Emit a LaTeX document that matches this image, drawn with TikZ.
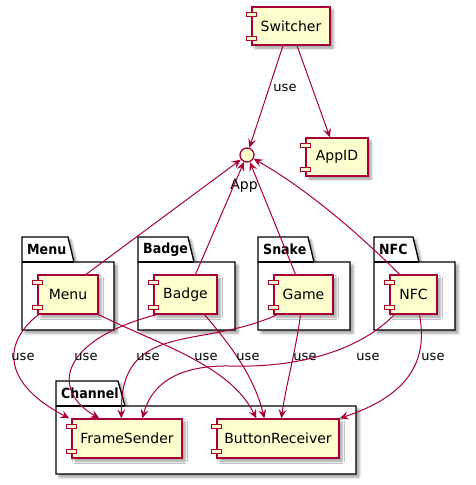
\documentclass[tikz,border=0pt]{standalone}
\usepackage{fontspec}
\setmainfont{DejaVu Sans}
\newfontfamily\pkgfont{DejaVu Sans Condensed}
\usetikzlibrary{calc,arrows.meta,shadows.blur}
\definecolor{umlred}{HTML}{A80036}
\definecolor{umlyellow}{HTML}{FEFECE}
\tikzset{
  shad/.style={blur shadow={shadow xshift=3pt,shadow yshift=-3pt,shadow blur radius=2.5pt,shadow opacity=40}},
  comp/.style={draw=umlred,fill=umlyellow,line width=1.3pt,inner sep=0pt,shad,
    font=\fontsize{14}{16}\selectfont,text=black},
  comptab/.style={draw=umlred,fill=umlyellow,line width=1.3pt},
  pkgbox/.style={draw=black,fill=white,line width=1.3pt,shad},
  pkgline/.style={draw=black,line width=1.3pt},
  pkglabel/.style={anchor=west,inner sep=0pt,font=\pkgfont\bfseries\fontsize{14}{16}\selectfont},
  uselabel/.style={inner sep=0pt,font=\fontsize{13}{15}\selectfont},
  rel/.style={draw=umlred,line width=1pt,-{Stealth[length=9pt,width=8pt,inset=3.5pt]}},
  iface/.style={circle,draw=umlred,fill=umlyellow,line width=1.3pt,minimum size=14pt,inner sep=0pt}
}
\newcommand\comptabs[1]{%
  \draw[comptab] ($(#1.north west)+(-5,6)$) rectangle ++(10,4);
  \draw[comptab] ($(#1.south west)+(-5,-9)$) rectangle ++(10,4);}
% L, tabTop, tabRightTop, tabRightBot, bodyTop, R, B, name
\newcommand\umlpkg[8]{%
  \path[pkgbox] (#1,#2) -- (#3,#2) -- (#4,#5) -- (#6,#5) -- (#6,#7) -- (#1,#7) -- cycle;
  \draw[pkgline] (#1,#5) -- (#4,#5);
  \node[pkglabel] at ({#1+5},{(#2+#5)/2}) {#8};}
\begin{document}
\begin{tikzpicture}[x=1pt,y=-1pt]
\useasboundingbox (0,0) rectangle (475,485);
% packages
\umlpkg{22}{237}{68}{74}{262}{114}{330}{Menu}
\umlpkg{138}{237}{188}{194}{262}{235}{330}{Badge}
\umlpkg{258}{237}{308}{314}{262}{350}{330}{Snake}
\umlpkg{374}{237}{413}{419}{262}{455}{330}{NFC}
\umlpkg{56}{381}{118}{125}{406}{356}{474}{Channel}
% components
\node[comp,minimum width=78pt,minimum height=38pt] (sw) at (291,26) {Switcher};
\node[comp,minimum width=62pt,minimum height=38pt] (appid) at (337,157) {AppID};
\node[comp,minimum width=60pt,minimum height=39pt] (menu) at (68,294.5) {Menu};
\node[comp,minimum width=63pt,minimum height=39pt] (badge) at (185.5,294.5) {Badge};
\node[comp,minimum width=59pt,minimum height=39pt] (game) at (303.5,294.5) {Game};
\node[comp,minimum width=47pt,minimum height=39pt] (nfc) at (413.5,294.5) {NFC};
\node[comp,minimum width=110pt,minimum height=39pt] (fs) at (127,438.5) {FrameSender};
\node[comp,minimum width=122pt,minimum height=39pt] (br) at (278,438.5) {ButtonReceiver};
\foreach \n in {sw,appid,menu,badge,game,nfc,fs,br} {\comptabs{\n}}
% interface
\node[iface] (app) at (247,155) {};
\node[uselabel,font=\fontsize{14}{16}\selectfont] (applabel) at (244,186) {App};
% edges to App / AppID
\draw[rel] ($(sw.south)+(-8,0)$) -- (app);
\node[uselabel] (l0) at (285,88) {use};
\draw[rel] ($(sw.south)+(6,0)$) -- ($(appid.north)+(-7,0)$);
\draw[rel] ($(menu.north)+(18,0)$) -- (app);
\draw[rel] ($(badge.north)+(10,0)$) -- (app);
\draw[rel] ($(game.north)+(-8,0)$) -- (app);
\draw[rel] ($(nfc.north)+(-14,0)$) .. controls (350,225) and (300,185) .. (app);
% edges to Channel
\draw[rel] ($(menu.south west)+(1,0)$) .. controls (0,345) and (5,385) .. ($(fs.north west)+(-2,0)$);
\node[uselabel] (l1) at (23,357) {use};
\draw[rel] (menu.south east) .. controls (160,345) and (230,365) .. ($(br.north west)+(40,0)$);
\node[uselabel] (l4) at (206,357) {use};
\draw[rel] ($(badge.south west)+(3,0)$) .. controls (60,340) and (50,390) .. ($(fs.north west)+(28,0)$);
\node[uselabel] (l2) at (86,357) {use};
\draw[rel] ($(badge.south)+(19,0)$) .. controls (235,350) and (255,380) .. ($(br.north west)+(48,0)$);
\node[uselabel] (l5) at (248,357) {use};
\draw[rel] ($(game.south west)+(4,0)$) .. controls (200,350) and (120,320) .. ($(fs.north west)+(50,0)$);
\node[uselabel] (l3) at (148,357) {use};
\draw[rel] ($(game.south)+(-3,0)$) .. controls (296,350) and (286,385) .. ($(br.north west)+(65,0)$);
\node[uselabel] (l6) at (305,357) {use};
\draw[rel] ($(nfc.south west)+(5,0)$) .. controls (360,350) and (300,368) .. (230,366)
  .. controls (170,365) and (150,390) .. ($(fs.north west)+(71,0)$);
\node[uselabel] (l7) at (368,357) {use};
\draw[rel] ($(nfc.south)+(6,0)$) .. controls (428,360) and (410,395) .. (br.north east);
\node[uselabel] (l8) at (433,357) {use};
\end{tikzpicture}
\end{document}
